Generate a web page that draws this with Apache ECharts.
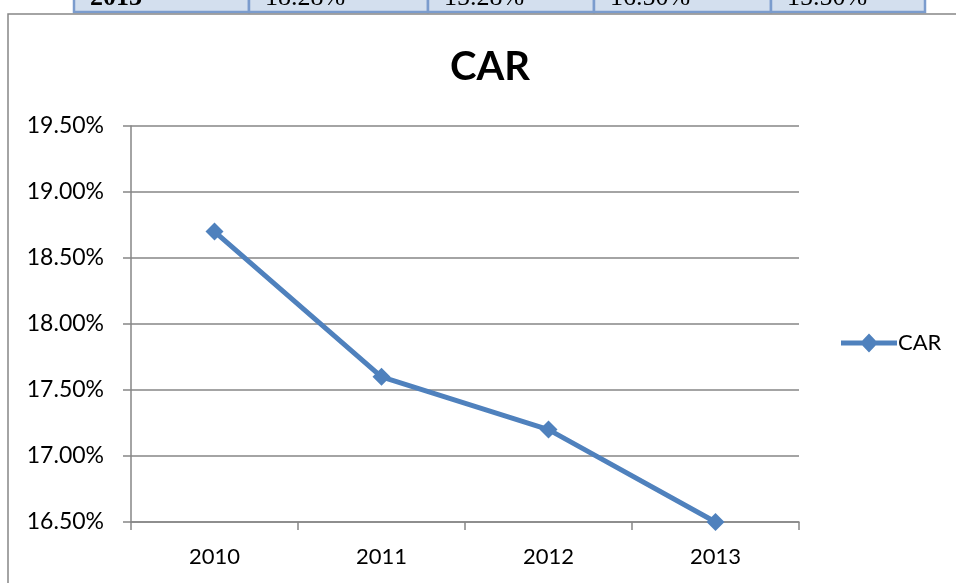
<!DOCTYPE html>
<html>
<head>
<meta charset="utf-8">
<style>
  html, body { margin: 0; padding: 0; background: #ffffff; }
  #chart { width: 956px; height: 583px; }
</style>
<script src="https://cdn.jsdelivr.net/npm/echarts@6/dist/echarts.min.js"></script>
</head>
<body>
<div id="chart"></div>
<script>
// Capital adequacy ratio by year
const years = ['2010', '2011', '2012', '2013'];
const carValues = [18.70, 17.60, 17.20, 16.50];
const yTicks = { min: 16.5, max: 19.5, step: 0.5 };

// Last visible row of the table above the chart
const tableRowCells = ['2013', '18.28%', '15.28%', '16.50%', '15.50%'];

const chart = echarts.init(document.getElementById('chart'), null, { renderer: 'canvas' });

const cellEdges = [74, 249, 428, 594, 771, 925];
const tableGraphics = [];
for (let i = 0; i < tableRowCells.length; i++) {
  tableGraphics.push({
    type: 'rect',
    shape: { x: cellEdges[i], y: -10, width: cellEdges[i + 1] - cellEdges[i], height: 22 },
    style: { fill: '#d3dfee', stroke: '#7b9ccd', lineWidth: 2.5 },
    z: 1
  });
  tableGraphics.push({
    type: 'text',
    x: cellEdges[i] + 16,
    y: -2,
    style: {
      text: tableRowCells[i],
      font: (i === 0 ? 'bold ' : '') + '26px "Liberation Serif", serif',
      fill: '#000000',
      verticalAlign: 'middle',
      align: 'left'
    },
    z: 2
  });
}

// Legend key: a thick line with a diamond in its middle
const lineDiamondIcon = 'path://M0,7L56,7L56,12L0,12Z M28,0L37,9.5L28,19L19,9.5Z';

chart.setOption({
  animation: false,
  backgroundColor: '#ffffff',
  title: {
    text: 'CAR',
    left: 485,
    top: 42,
    textAlign: 'center',
    textStyle: { fontFamily: 'Lato', fontWeight: 'bold', fontSize: 40, color: '#000000' }
  },
  legend: {
    data: [{
      name: 'CAR',
      icon: lineDiamondIcon,
      itemStyle: { color: '#4f81bd' }
    }],
    orient: 'vertical',
    left: 836,
    top: 327,
    itemWidth: 56,
    itemHeight: 19,
    itemGap: 0,
    textStyle: { fontFamily: 'Lato', fontSize: 22, color: '#000000', padding: [0, 0, 0, -4] }
  },
  grid: { left: 131, right: 157, top: 126, bottom: 61, containLabel: false },
  xAxis: {
    type: 'category',
    data: years,
    boundaryGap: true,
    axisLine: { show: true, lineStyle: { color: '#868686', width: 1.5 } },
    axisTick: { show: true, alignWithLabel: false, length: 8, lineStyle: { color: '#868686', width: 1.5 } },
    axisLabel: { margin: 24, fontFamily: 'Lato', fontSize: 22, color: '#000000' },
    splitLine: { show: false }
  },
  yAxis: {
    type: 'value',
    min: yTicks.min,
    max: yTicks.max,
    interval: yTicks.step,
    axisLine: { show: true, lineStyle: { color: '#868686', width: 1.5 } },
    axisTick: { show: true, length: 8, lineStyle: { color: '#868686', width: 1.5 } },
    axisLabel: {
      margin: 27,
      fontFamily: 'Lato',
      fontSize: 23,
      color: '#000000',
      formatter: v => v.toFixed(2) + '%'
    },
    splitLine: { show: true, lineStyle: { color: '#868686', width: 1.5 } }
  },
  series: [{
    name: 'CAR',
    type: 'line',
    data: carValues,
    symbol: 'diamond',
    symbolSize: 18,
    showAllSymbol: true,
    lineStyle: { color: '#4f81bd', width: 5 },
    itemStyle: { color: '#4f81bd' },
    z: 3
  }],
  graphic: [
    ...tableGraphics,
    {
      type: 'rect',
      shape: { x: 8, y: 14, width: 1200, height: 1000 },
      style: { fill: null, stroke: '#868686', lineWidth: 1.5 },
      silent: true,
      z: 1
    }
  ]
});
</script>
</body>
</html>
